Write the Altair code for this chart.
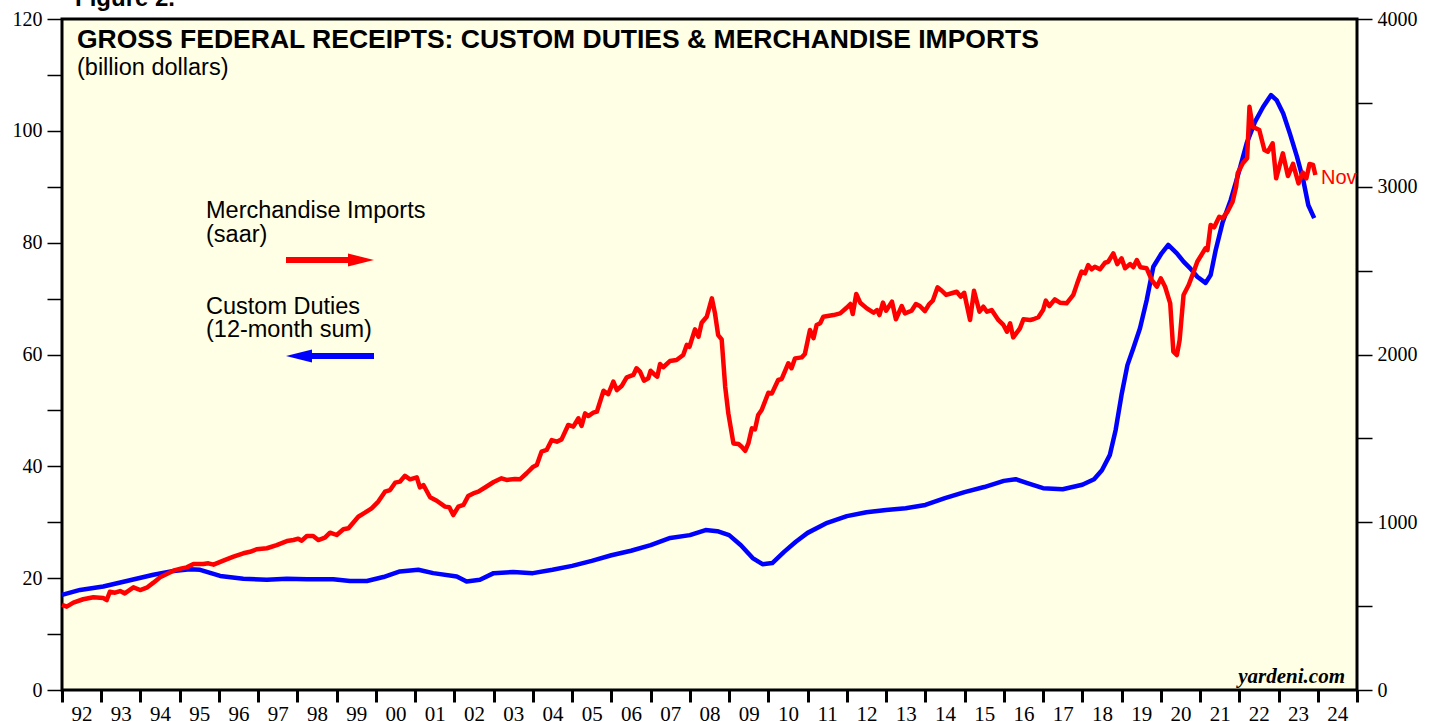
import altair as alt
import pandas as pd

# ---------------- data ----------------
# Custom Duties, 12-month sum, billion dollars (left axis)
duties_year = [
    1992.0, 1992.46, 1993.05, 1993.65, 1994.33, 1994.84, 1995.26, 1995.52, 1996.03, 1996.62,
    1997.22, 1997.73, 1998.24, 1998.91, 1999.34, 1999.77, 2000.19, 2000.61, 2001.08, 2001.46,
    2002.06, 2002.31, 2002.65, 2003.0, 2003.5, 2004.0, 2004.5, 2005.0, 2005.5, 2006.0,
    2006.5, 2007.0, 2007.5, 2008.0, 2008.4, 2008.7, 2009.0, 2009.3, 2009.6, 2009.85,
    2010.1, 2010.4, 2010.7, 2011.0, 2011.5, 2012.0, 2012.5, 2013.0, 2013.5, 2014.0,
    2014.5, 2015.0, 2015.5, 2016.0, 2016.3, 2016.6, 2017.0, 2017.5, 2018.0, 2018.3,
    2018.5, 2018.7, 2018.85, 2019.0, 2019.15, 2019.3, 2019.47, 2019.64, 2019.81, 2020.02,
    2020.19, 2020.41, 2020.58, 2020.75, 2020.93, 2021.14, 2021.27, 2021.4, 2021.57, 2021.78,
    2021.98, 2022.19, 2022.4, 2022.61, 2022.81, 2022.95, 2023.12, 2023.29, 2023.47, 2023.63,
    2023.76, 2023.91,
]
duties_value = [
    17.0, 17.9, 18.5, 19.5, 20.6, 21.3, 21.6, 21.5, 20.4, 19.9,
    19.7, 19.9, 19.8, 19.8, 19.5, 19.5, 20.2, 21.2, 21.5, 20.9,
    20.3, 19.4, 19.7, 20.9, 21.1, 20.9, 21.5, 22.2, 23.1, 24.1,
    24.9, 25.9, 27.2, 27.7, 28.6, 28.4, 27.7, 25.9, 23.6, 22.5,
    22.7, 24.7, 26.5, 28.1, 29.9, 31.1, 31.8, 32.2, 32.5, 33.1,
    34.3, 35.4, 36.3, 37.4, 37.7, 37.0, 36.1, 35.9, 36.7, 37.7,
    39.3, 42.0, 46.5, 52.8, 58.1, 61.1, 64.7, 69.7, 75.7, 78.1,
    79.6, 78.1, 76.6, 75.4, 73.9, 72.8, 74.2, 78.7, 83.5, 87.6,
    92.4, 97.8, 101.6, 104.3, 106.4, 105.5, 103.1, 99.5, 95.4, 91.2,
    86.7, 84.4,
]

# Merchandise Imports, saar, billion dollars (right axis)
imports_year = [
    1992.0, 1992.12, 1992.29, 1992.54, 1992.8, 1993.05, 1993.14, 1993.22, 1993.35, 1993.48,
    1993.6, 1993.82, 1993.99, 1994.16, 1994.33, 1994.5, 1994.67, 1994.88, 1995.05, 1995.18,
    1995.35, 1995.6, 1995.73, 1995.86, 1996.11, 1996.37, 1996.62, 1996.79, 1996.96, 1997.22,
    1997.47, 1997.73, 1997.9, 1998.02, 1998.11, 1998.24, 1998.4, 1998.53, 1998.7, 1998.83,
    1999.0, 1999.17, 1999.3, 1999.42, 1999.55, 1999.72, 1999.89, 2000.06, 2000.23, 2000.36,
    2000.49, 2000.61, 2000.74, 2000.87, 2001.04, 2001.12, 2001.21, 2001.38, 2001.55, 2001.76,
    2001.87, 2001.97, 2002.1, 2002.23, 2002.35, 2002.48, 2002.61, 2002.8, 2003.0, 2003.2,
    2003.33, 2003.54, 2003.67, 2003.84, 2004.01, 2004.1, 2004.22, 2004.35, 2004.48, 2004.61,
    2004.73, 2004.9, 2005.03, 2005.16, 2005.24, 2005.33, 2005.41, 2005.54, 2005.63, 2005.8,
    2005.92, 2006.05, 2006.14, 2006.26, 2006.39, 2006.56, 2006.64, 2006.73, 2006.83, 2006.94,
    2007.0, 2007.11, 2007.17, 2007.24, 2007.32, 2007.49, 2007.66, 2007.83, 2007.92, 2007.99,
    2008.13, 2008.22, 2008.3, 2008.43, 2008.56, 2008.64, 2008.72, 2008.81, 2008.9, 2008.98,
    2009.11, 2009.24, 2009.32, 2009.41, 2009.49, 2009.58, 2009.66, 2009.74, 2009.83, 2010.0,
    2010.09, 2010.25, 2010.34, 2010.51, 2010.59, 2010.68, 2010.85, 2010.93, 2011.06, 2011.15,
    2011.23, 2011.32, 2011.4, 2011.66, 2011.83, 2012.0, 2012.09, 2012.15, 2012.24, 2012.34,
    2012.51, 2012.68, 2012.77, 2012.83, 2012.92, 2013.0, 2013.15, 2013.25, 2013.4, 2013.48,
    2013.65, 2013.76, 2013.86, 2013.99, 2014.1, 2014.19, 2014.31, 2014.42, 2014.53, 2014.67,
    2014.8, 2014.9, 2014.99, 2015.14, 2015.24, 2015.38, 2015.48, 2015.57, 2015.69, 2015.86,
    2015.99, 2016.08, 2016.16, 2016.24, 2016.41, 2016.5, 2016.67, 2016.75, 2016.88, 2017.0,
    2017.07, 2017.16, 2017.3, 2017.43, 2017.6, 2017.77, 2017.87, 2017.98, 2018.07, 2018.15,
    2018.24, 2018.32, 2018.45, 2018.58, 2018.66, 2018.79, 2018.89, 2019.0, 2019.09, 2019.22,
    2019.3, 2019.39, 2019.48, 2019.64, 2019.77, 2019.9, 2020.0, 2020.11, 2020.24, 2020.32,
    2020.41, 2020.48, 2020.58, 2020.71, 2020.84, 2020.93, 2021.06, 2021.14, 2021.19, 2021.27,
    2021.36, 2021.49, 2021.57, 2021.7, 2021.83, 2021.92, 2021.96, 2022.09, 2022.2, 2022.26,
    2022.34, 2022.51, 2022.64, 2022.73, 2022.85, 2022.94, 2023.11, 2023.24, 2023.37, 2023.51,
    2023.62, 2023.71, 2023.79, 2023.88, 2023.94,
]
imports_value = [
    507, 497, 521, 541, 553, 548, 536, 586, 580, 590,
    576, 612, 596, 610, 640, 672, 691, 715, 725, 731,
    751, 751, 755, 747, 771, 795, 815, 824, 839, 845,
    864, 888, 894, 902, 890, 918, 918, 894, 908, 938,
    924, 958, 964, 997, 1033, 1057, 1083, 1123, 1182, 1192,
    1236, 1242, 1277, 1256, 1268, 1208, 1222, 1149, 1128, 1093,
    1089, 1043, 1093, 1103, 1156, 1172, 1182, 1210, 1240, 1262,
    1252, 1258, 1256, 1292, 1331, 1341, 1421, 1431, 1490, 1480,
    1494, 1580, 1570, 1620, 1574, 1649, 1633, 1653, 1659, 1784,
    1764, 1838, 1788, 1812, 1864, 1878, 1918, 1898, 1844, 1858,
    1903, 1878, 1868, 1943, 1924, 1961, 1967, 1997, 2057, 2046,
    2150, 2106, 2189, 2225, 2335, 2245, 2116, 2090, 1808, 1649,
    1470, 1466, 1450, 1426, 1470, 1560, 1554, 1639, 1669, 1772,
    1768, 1848, 1854, 1948, 1918, 1977, 1983, 2003, 2146, 2097,
    2176, 2186, 2225, 2235, 2245, 2280, 2301, 2241, 2361, 2309,
    2275, 2249, 2265, 2235, 2309, 2261, 2315, 2210, 2289, 2245,
    2261, 2301, 2289, 2259, 2301, 2321, 2400, 2380, 2355, 2365,
    2374, 2345, 2368, 2206, 2380, 2255, 2285, 2255, 2265, 2206,
    2176, 2136, 2186, 2102, 2156, 2210, 2206, 2210, 2222, 2265,
    2321, 2289, 2329, 2309, 2305, 2355, 2424, 2494, 2484, 2533,
    2508, 2523, 2508, 2547, 2553, 2603, 2539, 2573, 2514, 2539,
    2520, 2563, 2520, 2514, 2444, 2404, 2454, 2404, 2305, 2017,
    1997, 2086, 2355, 2414, 2494, 2553, 2603, 2633, 2623, 2772,
    2758, 2821, 2812, 2851, 2911, 3000, 3080, 3140, 3170, 3477,
    3358, 3338, 3219, 3209, 3259, 3050, 3199, 3064, 3136, 3020,
    3084, 3050, 3136, 3130, 3070,
]

year_ticks = list(range(1992, 2026))
left_ticks = list(range(0, 121, 10))
right_ticks = list(range(0, 4001, 500))

TITLE = "GROSS FEDERAL RECEIPTS: CUSTOM DUTIES & MERCHANDISE IMPORTS"
SUBTITLE = "(billion dollars)"

# ---------------- chart ----------------
W, H = 1295, 671
RED = "#FF0000"
BLUE = "#0000FF"
SERIF = "Liberation Serif"
SANS = "Liberation Sans"

duties = pd.DataFrame(list(zip(duties_year, duties_value)), columns=["year", "value"])
imports = pd.DataFrame(list(zip(imports_year, imports_value)), columns=["year", "value"])

x_scale = alt.Scale(domain=[1992, 2025], nice=False, zero=False)
x_axis = alt.Axis(
    values=year_ticks,
    labelExpr="datum.value < 2025 ? slice(toString(datum.value), 2) : ''",
    labelOffset=19.6, tickSize=12, tickWidth=3, tickColor="black",
    domain=False, grid=False, labelFont=SERIF, labelFontSize=21,
    labelColor="black", labelPadding=1, labelFlush=False, labelOverlap=False,
    labelBound=False, title=None,
)
left_axis = alt.Axis(
    orient="left", values=left_ticks,
    labelExpr="datum.value % 20 == 0 ? datum.label : ''",
    tickSize=15, tickWidth=1.5, tickColor="black", domain=False, grid=False,
    labelFont=SERIF, labelFontSize=20, labelColor="black", labelPadding=5,
    labelOverlap=False, title=None,
)
right_axis = alt.Axis(
    orient="right", values=right_ticks,
    labelExpr="datum.value % 1000 == 0 ? datum.label : ''",
    tickSize=15, tickWidth=1.5, tickColor="black", domain=False, grid=False,
    labelFont=SERIF, labelFontSize=20, labelColor="black", labelPadding=5,
    labelOverlap=False, title=None, format="d",
)

blue_line = alt.Chart(duties).mark_line(color=BLUE, strokeWidth=4.5, strokeJoin="round").encode(
    x=alt.X("year:Q", scale=x_scale, axis=x_axis),
    y=alt.Y("value:Q", scale=alt.Scale(domain=[0, 120], nice=False), axis=left_axis),
)
red_line = alt.Chart(imports).mark_line(color=RED, strokeWidth=4.5, strokeJoin="round").encode(
    x=alt.X("year:Q", scale=x_scale, axis=x_axis),
    y=alt.Y("value:Q", scale=alt.Scale(domain=[0, 4000], nice=False), axis=right_axis),
)

one = pd.DataFrame({"k": [0]})


def label(text, x, y, size, color="black", weight="normal", style="normal",
          font=SANS, align="left"):
    return alt.Chart(one).mark_text(
        text=text, align=align, baseline="alphabetic", font=font, fontSize=size,
        fontWeight=weight, fontStyle=style, color=color,
    ).encode(x=alt.value(x), y=alt.value(y))


texts = [
    label("Figure 2.", 13, -13, 24, weight="bold"),
    label(TITLE, 15, 29, 26.5, weight="bold"),
    label(SUBTITLE, 15, 56, 23.5),
    label("Merchandise Imports", 144, 199, 23.5),
    label("(saar)", 144, 223, 23.5),
    label("Custom Duties", 144, 295, 23.5),
    label("(12-month sum)", 144, 318, 23.5),
    label("Nov", 1259, 165, 20, color=RED),
    label("yardeni.com", 1283, 664, 21, weight="bold", style="italic", font=SERIF, align="right"),
]

red_shaft = alt.Chart(one).mark_rule(color=RED, strokeWidth=6).encode(
    x=alt.value(224), x2=alt.value(292), y=alt.value(241))
red_head = alt.Chart(one).mark_point(
    shape="M -1 -0.5 L 1 0 L -1 0.5 Z", filled=True, color=RED, opacity=1, size=676, strokeWidth=0,
).encode(x=alt.value(299), y=alt.value(241))
blue_shaft = alt.Chart(one).mark_rule(color=BLUE, strokeWidth=6).encode(
    x=alt.value(244), x2=alt.value(312), y=alt.value(337))
blue_head = alt.Chart(one).mark_point(
    shape="M 1 -0.5 L -1 0 L 1 0.5 Z", filled=True, color=BLUE, opacity=1, size=676, strokeWidth=0,
).encode(x=alt.value(237), y=alt.value(337))

chart = alt.layer(
    blue_line, red_line, red_shaft, red_head, blue_shaft, blue_head, *texts
).resolve_scale(y="independent").properties(
    width=W, height=H,
    autosize=alt.AutoSizeParams(type="none"),
    padding={"left": 62, "top": 19, "right": 81, "bottom": 31},
    background="white",
).configure_view(
    fill="#FFFFE5", stroke="black", strokeWidth=3,
)

chart.save("out.html", embed_options={"renderer": "svg", "actions": False})
